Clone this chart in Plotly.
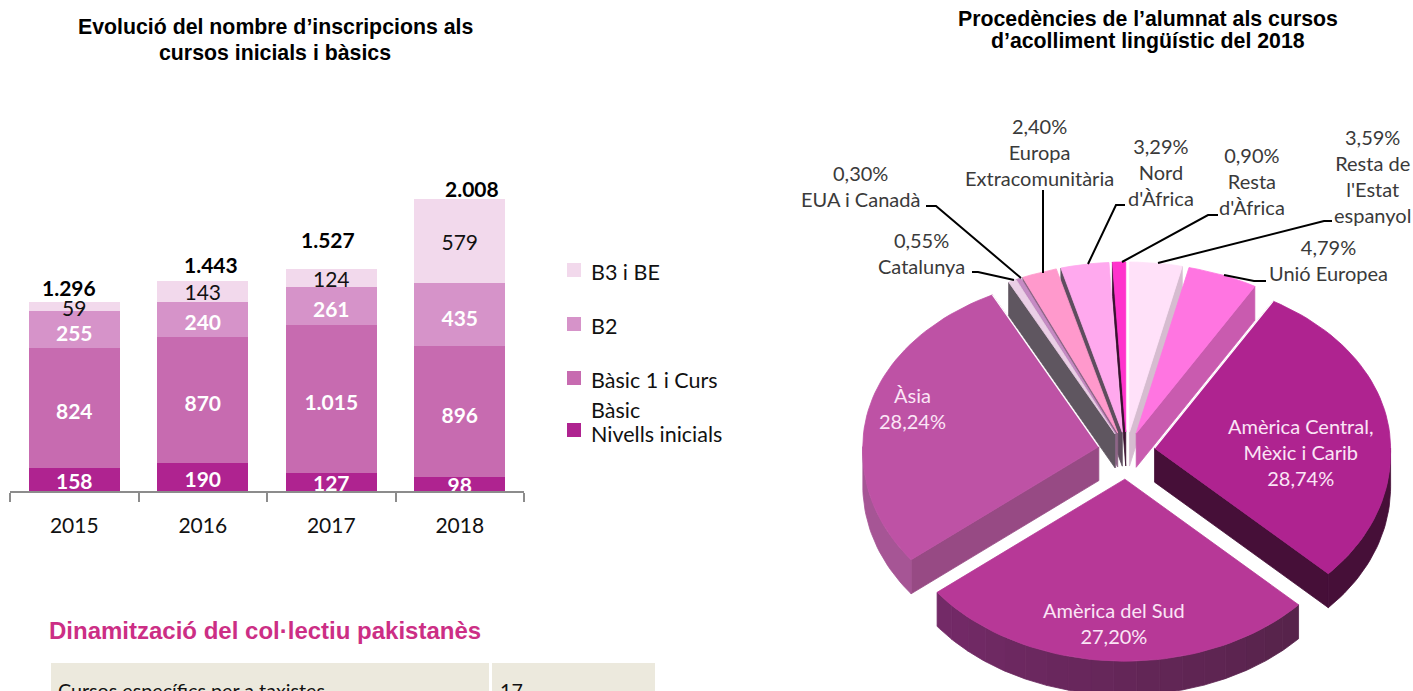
import math
import plotly.graph_objects as go

W, H = 1413, 691

# ---------- data ----------
years = ["2015", "2016", "2017", "2018"]
nivells = [158, 190, 127, 98]
basic = [824, 870, 1015, 896]
b2 = [255, 240, 261, 435]
b3 = [59, 143, 124, 579]
totals = [1296, 1443, 1527, 2008]
bar_names = ["Nivells inicials", "Bàsic 1 i Curs Bàsic", "B2", "B3 i BE"]

pie_names = ["Resta de l'Estat espanyol", "Unió Europea", "Amèrica Central, Mèxic i Carib",
             "Amèrica del Sud", "Àsia", "Catalunya", "EUA i Canadà",
             "Europa Extracomunitària", "Nord d'Àfrica", "Resta d'Àfrica"]
pie_values = [3.59, 4.79, 28.74, 27.20, 28.24, 0.55, 0.30, 2.40, 3.29, 0.90]

# ---------- styles ----------
BAR_COLORS = ["#AF2390", "#C76BB0", "#D693C9", "#F2D9EC"]
LABEL_COLORS = ["#FFFFFF", "#FFFFFF", "#FFFFFF", "#111111"]
LABEL_DROPS = [28, 40, 40, 25]
TOTAL_SHIFT_X = [-5, 8, -3, 12]
TOTAL_SHIFT_Y = [15, 17, 29, 10]

TOP = ["#FFE1F9", "#FF75E1", "#AF2390", "#B73897", "#BE52A5",
       "#EBCFE6", "#C58BC4", "#FF99CC", "#FFA9EE", "#FF33CC"]
EDGE = ["#D6BCD0", "#C95BAF", "#460F38", "#5C2450", "#974A84",
        "#5F5660", "#A0709D", "#8D6585", "#5E4D5E", "#3A1030"]
ARC_L = ["#D6BCD0", "#C95BAF", "#460F38", "#742A68", "#A65595",
         "#5F5660", "#A0709D", "#8D6585", "#5E4D5E", "#3A1030"]
ARC_R = ["#D6BCD0", "#C95BAF", "#460F38", "#56234A", "#A65595",
         "#5F5660", "#A0709D", "#8D6585", "#5E4D5E", "#3A1030"]
EXPLODE = [0.112, 0.112, 0.12, 0.155, 0.12, 0.112, 0.112, 0.112, 0.112, 0.112]
DRAW_ORDER = [0, 9, 8, 1, 7, 6, 5, 2, 4, 3]
WHITE_START = {2}   # slices with a white hairline along their first radial edge
WHITE_END = {4}     # slices with a white hairline along their last radial edge
CX, CY, RX, RY_TOP, RY_BOT, DEPTH = 1126.5, 451, 236, 170, 182, 34
NEAR_WIDEN = 0.025

LATO = "Lato"
ARIAL = "Liberation Sans"
OUTER = "#3A3A3A"
INNER = "#FBE5F6"


def fmt(v):
    return f"{v:,}".replace(",", ".")


def hex_mix(a, b, t):
    ca = [int(a[i:i + 2], 16) for i in (1, 3, 5)]
    cb = [int(b[i:i + 2], 16) for i in (1, 3, 5)]
    return "#" + "".join(f"{round(x + (y - x) * t):02X}" for x, y in zip(ca, cb))


def unit(deg):
    r = math.radians(deg)
    c = math.cos(r)
    ry = RY_TOP if c > 0 else RY_BOT
    rx = RX if c > 0 else RX * (1 + NEAR_WIDEN * abs(c))
    return rx * math.sin(r), -ry * c


fig = go.Figure()

# ---------- stacked bars ----------
stack = [nivells, basic, b2, b3]
base = [0, 0, 0, 0]
for name, vals, col in zip(bar_names, stack, BAR_COLORS):
    fig.add_trace(go.Bar(x=years, y=vals, name=name, marker=dict(color=col, line=dict(width=0)),
                         hoverinfo="skip"))
for vals, col, drop in zip(stack, LABEL_COLORS, LABEL_DROPS):
    mids = [b + v / 2 - drop for b, v in zip(base, vals)]
    fig.add_trace(go.Scatter(x=years, y=mids, mode="text", text=[fmt(v) for v in vals],
                             textposition="middle center",
                             textfont=dict(family=LATO, size=21, color=col,
                                           weight=400 if col == "#111111" else 700),
                             hoverinfo="skip"))
    base = [b + v for b, v in zip(base, vals)]

annotations = []
for idx, (t, dx, dy) in enumerate(zip(totals, TOTAL_SHIFT_X, TOTAL_SHIFT_Y)):
    annotations.append(dict(x=idx, y=t, xref="x", yref="y", text=f"<b>{fmt(t)}</b>", showarrow=False,
                            xshift=dx, yshift=dy, yanchor="middle",
                            font=dict(family=LATO, size=21, color="#000000")))


def label(x, y, text, size=20, color=OUTER, family=LATO, anchor="center", bold=False):
    annotations.append(dict(x=x, y=y, xref="x2", yref="y2", text=f"<b>{text}</b>" if bold else text,
                            showarrow=False, xanchor=anchor, yanchor="middle", align=anchor,
                            font=dict(family=family, size=size, color=color)))


# ---------- titles and free text ----------
label(275, 27, "Evolució del nombre d’inscripcions als", 21.3, "#000000", ARIAL, bold=True)
label(275, 53, "cursos inicials i bàsics", 21.3, "#000000", ARIAL, bold=True)
label(1148, 19, "Procedències de l’alumnat als cursos", 21.3, "#000000", ARIAL, bold=True)
label(1148, 41, "d’acolliment lingüístic del 2018", 21.3, "#000000", ARIAL, bold=True)
label(47, 630, "Dinamització del col·lectiu pakistanès", 24, "#CC2E85", ARIAL, "left", True)
label(56, 690, "Cursos específics per a taxistes", 19.7, "#111111", LATO, "left")
label(498, 690, "17", 19.7, "#111111", LATO, "left")

# ---------- bar legend ----------
shapes = []
for cy, col in zip([270, 324, 378, 430], BAR_COLORS[::-1]):
    shapes.append(dict(type="rect", xref="x2", yref="y2", x0=567, x1=581, y0=cy - 7, y1=cy + 7,
                       fillcolor=col, line=dict(width=0)))
for cy, txt in zip([272, 326, 380, 410, 434],
                   ["B3 i BE", "B2", "Bàsic 1 i Curs", "Bàsic", "Nivells inicials"]):
    label(589, cy, txt, 21.5, "#111111", LATO, "left")

# ---------- table cells ----------
for x0, x1 in [(51, 489), (492, 655)]:
    shapes.append(dict(type="rect", xref="x2", yref="y2", x0=x0, x1=x1, y0=663, y1=691,
                       fillcolor="#ECE9DD", line=dict(width=0), layer="below"))


# ---------- pie ----------
def poly(xs, ys, fill, line_col=None, lw=0.8):
    fig.add_trace(go.Scatter(x=xs, y=ys, xaxis="x2", yaxis="y2", mode="lines", fill="toself",
                             fillcolor=fill, line=dict(color=line_col or fill, width=lw),
                             hoverinfo="skip"))


def hairline(p, q):
    fig.add_trace(go.Scatter(x=[p[0], q[0]], y=[p[1], q[1]], xaxis="x2", yaxis="y2", mode="lines",
                             line=dict(color="#FFFFFF", width=1.2), hoverinfo="skip"))


total = sum(pie_values)
starts, ends = [], []
acc = 0.0
for v in pie_values:
    starts.append(acc / total * 360)
    acc += v
    ends.append(acc / total * 360)

for i in DRAW_ORDER:
    a, b = starts[i], ends[i]
    m = (a + b) / 2
    ux, uy = unit(m)
    ax, ay = CX + EXPLODE[i] * ux, CY + EXPLODE[i] * uy
    n = max(4, int((b - a) / 2))
    angs = [a + (b - a) * k / n for k in range(n + 1)]
    arc = [(ax + unit(t)[0], ay + unit(t)[1]) for t in angs]

    # straight cut faces
    if math.sin(math.radians(a)) < 0:
        p = arc[0]
        poly([ax, p[0], p[0], ax, ax], [ay, p[1], p[1] + DEPTH, ay + DEPTH, ay], EDGE[i])
    if math.sin(math.radians(b)) > 0:
        p = arc[-1]
        poly([ax, p[0], p[0], ax, ax], [ay, p[1], p[1] + DEPTH, ay + DEPTH, ay], EDGE[i])

    # outer rim, lower half only
    lo, hi = max(a, 90), min(b, 270)
    if lo < hi:
        strips = 18 if ARC_L[i] != ARC_R[i] else 1
        for s in range(strips):
            t0 = lo + (hi - lo) * s / strips
            t1 = lo + (hi - lo) * (s + 1) / strips
            k = max(6, int((t1 - t0) / 1.5))
            sub = [t0 + (t1 - t0) * j / k for j in range(k + 1)]
            xs = [ax + unit(t)[0] for t in sub]
            ys = [ay + unit(t)[1] for t in sub]
            col = hex_mix(ARC_R[i], ARC_L[i], (s + 0.5) / strips)
            poly(xs + xs[::-1] + [xs[0]], ys + [y + DEPTH for y in ys[::-1]] + [ys[0]], col)

    # top face
    xs = [ax] + [p[0] for p in arc] + [ax]
    ys = [ay] + [p[1] for p in arc] + [ay]
    poly(xs, ys, TOP[i])
    if i in WHITE_START:
        hairline((ax, ay), arc[0])
    if i in WHITE_END:
        hairline((ax, ay), arc[-1])

# ---------- pie labels ----------
label(1039, 152, "2,40%<br>Europa<br>Extracomunitària")
label(860, 186, "0,30%<br>EUA i Canadà")
label(921, 253, "0,55%<br>Catalunya")
label(1161, 172, "3,29%<br>Nord<br>d'Àfrica")
label(1252, 181, "0,90%<br>Resta<br>d'Àfrica")
label(1372, 176, "3,59%<br>Resta de<br>l'Estat<br>espanyol")
label(1328, 260, "4,79%<br>Unió Europea")
label(912, 408, "Àsia<br>28,24%", 20, INNER)
label(1300, 452, "Amèrica Central,<br>Mèxic i Carib<br>28,74%", 20, INNER)
label(1114, 623, "Amèrica del Sud<br>27,20%", 20, INNER)

leaders = [
    [(1043, 190), (1043, 273)],
    [(926, 206), (936, 206), (1021, 278)],
    [(972, 272), (978, 272), (1014, 280)],
    [(1125, 205), (1116, 205), (1088, 264)],
    [(1218, 215), (1208, 215), (1122, 262)],
    [(1332, 221), (1324, 221), (1158, 263)],
    [(1266, 281), (1254, 281), (1224, 275)],
]
for pts in leaders:
    fig.add_trace(go.Scatter(x=[p[0] for p in pts], y=[p[1] for p in pts], xaxis="x2", yaxis="y2",
                             mode="lines", line=dict(color="#000000", width=2), hoverinfo="skip"))

# ---------- layout ----------
AX_L, AX_R, AX_BOTTOM, AX_TOP = 10, 524, 491, 60
fig.update_layout(
    width=W, height=H, margin=dict(l=0, r=0, t=0, b=0), autosize=False,
    paper_bgcolor="#FFFFFF", plot_bgcolor="rgba(0,0,0,0)",
    barmode="stack", bargap=0.29, showlegend=False,
    xaxis=dict(domain=[AX_L / W, AX_R / W], type="category", categoryorder="array", categoryarray=years,
               range=[-0.5, 3.5], tickson="boundaries", ticks="outside", tickangle=0,
               ticklen=9, tickwidth=1.5, tickcolor="#8C8C8C", showline=True, linecolor="#8C8C8C",
               linewidth=1.5, showgrid=False, zeroline=False, ticklabelstandoff=15,
               tickfont=dict(family=LATO, size=21, color="#111111"), fixedrange=True),
    yaxis=dict(domain=[(H - AX_BOTTOM) / H, (H - AX_TOP) / H], range=[0, (AX_BOTTOM - AX_TOP) / 0.1455],
               visible=False, fixedrange=True),
    xaxis2=dict(domain=[0, 1], range=[0, W], visible=False, anchor="y2", fixedrange=True),
    yaxis2=dict(domain=[0, 1], range=[H, 0], visible=False, anchor="x2", fixedrange=True),
    annotations=annotations, shapes=shapes,
)

fig.write_html("out.html", config={"displayModeBar": False},
               post_script="document.body.style.margin='0';")
